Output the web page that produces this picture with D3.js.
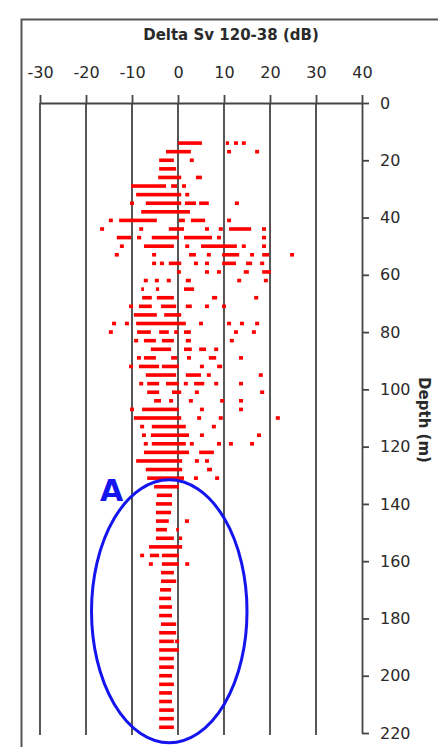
<!DOCTYPE html>
<html>
<head>
<meta charset="utf-8">
<script src="https://cdn.jsdelivr.net/npm/d3@7"></script>
<style>
    body { margin: 0; background: #fff; }
</style>
</head>
<body>
<script>
const width = 438;
const height = 747;

// axis ticks
const xTicks = [-30, -20, -10, 0, 10, 20, 30, 40];
const depthTicks = [0, 20, 40, 60, 80, 100, 120, 140, 160, 180, 200, 220];

// depth of each sampled row (m)
const depths = [14, 17, 20, 23, 26, 29, 32, 35, 38, 41, 44, 47, 50, 53, 56, 59, 62, 65, 68, 71,
    74, 77, 80, 83, 86, 89, 92, 95, 98, 101, 104, 107, 110, 113, 116, 119, 122, 125, 128, 131,
    134, 137, 140, 143, 146, 149, 152, 155, 158, 161, 164, 167, 170, 173, 176, 179, 182, 185, 188,
    191, 194, 197, 200, 203, 206, 209, 212, 215, 218];

// delta Sv values (dB) on each row, as runs [from, to] or single points [v]
const runs = [
    [[0, 5.2], [10.4, 11.1], [12.6], [14.3]],
    [[-2.6, 2.8], [11.1], [17.2]],
    [[-4.1, -0.9], [3.0]],
    [[-4.1, -0.4]],
    [[-4.3, 0.7], [3.9, 5.2]],
    [[-10.2, -2.6], [-1.5, -0.2], [1.3]],
    [[-9.1, 0.7], [2.0]],
    [[-10.0], [-7.0, 0.7], [1.5, 3.9], [4.6, 6.7], [12.8]],
    [[-8.0, 2.6]],
    [[-14.6], [-12.8, -4.6], [0.2, 1.5], [2.8, 5.9], [11.1]],
    [[-16.5], [-8.0], [-2.0, 1.3], [6.3], [9.3], [11.1, 15.9], [18.7]],
    [[-13.3, -10.2], [-8.9, -8.0], [-5.7, 0.2], [1.3, 7.4], [8.9], [18.7]],
    [[-12.2], [-7.4, -0.9], [2.0], [5.0, 12.8], [14.3], [18.7]],
    [[-13.3], [-5.2], [2.4, 3.9], [6.7], [9.6, 13.3], [16.1], [18.3, 19.8], [24.8]],
    [[-5.2], [-3.5], [-2.0, 0.7], [3.9], [6.3], [9.6, 12.6], [14.8, 16.1], [18.3]],
    [[0.2], [6.3], [8.9], [14.3, 15.4], [18.3, 20.2]],
    [[-7.0], [-4.6], [-2.0], [1.7, 2.8], [13.3], [19.1]],
    [[-8.0, -7.4], [-4.8, -4.1], [1.3, 3.5]],
    [[-7.8, -5.7], [-4.6, -0.9], [7.4, 8.5], [17.0]],
    [[-10.2], [-8.5, -5.7], [-3.7, -0.4], [1.7, 3.0], [6.3], [10.0]],
    [[-9.6, -4.6], [-3.0, 0.7]],
    [[-13.9], [-11.1], [-9.1, 1.7], [5.0], [11.1], [13.9], [17.2]],
    [[-14.6], [-8.9, -5.9], [-4.1, -2.0], [-0.4], [1.3, 2.8], [12.6], [16.5]],
    [[-9.1], [-7.4, -4.8], [-3.5, -0.9], [1.7, 2.8], [11.7]],
    [[-5.9, -1.5], [1.3, 3.0], [4.6, 6.1], [8.3]],
    [[-8.5], [-7.4, -4.8], [-1.5, -0.2], [2.4], [6.7, 8.3], [13.7]],
    [[-10.2], [-8.5, -4.1], [-3.5, 0.2], [5.2], [8.5, 9.6]],
    [[-7.0, -0.4], [1.7, 5.0], [6.7], [18.0]],
    [[-8.0], [-6.7, -4.1], [-2.6, 0.2], [1.7], [3.5, 5.7], [8.3], [13.7]],
    [[-6.7, -4.1], [-1.3, 0.7], [4.1], [18.3]],
    [[-5.2, -3.7], [-1.5], [2.8], [9.6], [13.7]],
    [[-10.0], [-7.8, 0.2], [5.2], [13.7]],
    [[-9.6, 0.7], [4.6], [9.3], [21.7]],
    [[-7.8], [-5.7, 1.7], [7.8]],
    [[-7.4], [-5.9, 2.4], [5.2], [17.6]],
    [[-7.0], [-5.7, 1.7], [3.0], [8.9], [11.5], [16.1]],
    [[-7.4, 2.4], [4.6, 7.8]],
    [[-9.1, 0.9], [4.1], [6.3]],
    [[-7.0, 0.9], [6.3, 7.4]],
    [[-6.7, 1.3], [3.9], [8.5]],
    [[-5.2, 0.2]],
    [[-4.6, -1.3]],
    [[-4.8, -1.3]],
    [[-4.8, -1.5]],
    [[-4.8, -2.0], [1.5, 2.4]],
    [[-4.8, -2.4], [-0.4, 0.2]],
    [[-4.8, -0.9], [0.2, 0.9]],
    [[-6.3, 0.9]],
    [[-7.8], [-6.1, -4.1], [-3.5, 0.2]],
    [[-5.9], [-3.5, 0.2], [2.0]],
    [[-3.7, -0.9]],
    [[-3.7, -0.4]],
    [[-3.9, -1.5]],
    [[-4.1, -1.5]],
    [[-4.1, -1.3]],
    [[-4.1, -1.3]],
    [[-3.7, -0.4]],
    [[-4.1, -0.4]],
    [[-4.1, -0.9], [-0.2]],
    [[-4.1, 0.2]],
    [[-4.1, -0.9]],
    [[-4.1, -0.9]],
    [[-4.1, -1.3]],
    [[-4.1, -0.9]],
    [[-4.1, -1.3]],
    [[-4.1, -1.3]],
    [[-4.1, -0.9]],
    [[-4.1, -0.9]],
    [[-4.1, -0.9]]
];

// annotation "A": ellipse centre (dB, m) and radii (dB, m)
const ringCentre = [-1.9, 177.5];
const ringRadius = [16.9, 45.9];

const color = {
    frame: "#555",
    grid: "#444",
    text: "#2a2a2a",
    point: "#ff0000",
    ring: "#1414ee"
};

const font = "'DejaVu Sans', sans-serif";
const gridBottom = 735;

let svg = d3.select("body").append("svg")
    .attr("width", width)
    .attr("height", height)
    .style("display", "block");

let x = d3.scaleLinear().domain([-30, 40]).range([40, 362]);
let y = d3.scaleLinear().domain([0, 220]).range([103, 733]);

// frame
svg.append("path")
    .attr("d", "M21.5," + height + "V19.5H" + width)
    .attr("fill", "none")
    .attr("stroke", color.frame)
    .attr("stroke-width", 2);

svg.append("text")
    .attr("x", 231)
    .attr("y", 40)
    .attr("text-anchor", "middle")
    .attr("font-family", font)
    .attr("font-weight", "bold")
    .attr("font-size", 15)
    .attr("fill", color.text)
    .text("Delta Sv 120-38 (dB)");

// vertical grid
svg.append("g")
    .selectAll("line")
    .data(xTicks.filter(d => d < 40))
    .enter()
    .append("line")
    .attr("x1", d => x(d))
    .attr("x2", d => x(d))
    .attr("y1", y(0))
    .attr("y2", gridBottom)
    .attr("stroke", color.grid)
    .attr("stroke-width", 1.8);

// top axis (plain hyphen for negatives, as in the original)
let xAxis = svg.append("g")
    .attr("transform", "translate(0," + y(0) + ")")
    .call(d3.axisTop(x).tickValues(xTicks).tickFormat(d => String(d))
        .tickSize(8).tickSizeOuter(0).tickPadding(17));
xAxis.select(".domain").attr("stroke", color.grid).attr("stroke-width", 1.8);
xAxis.selectAll(".tick line").attr("stroke", color.grid).attr("stroke-width", 1.8);
xAxis.selectAll("text")
    .attr("font-family", font)
    .attr("font-size", 16)
    .attr("fill", color.text);

// right depth axis
let yAxis = svg.append("g")
    .attr("transform", "translate(" + x(40) + ",0)")
    .call(d3.axisRight(y).tickValues(depthTicks).tickSize(7).tickSizeOuter(0).tickPadding(11));
yAxis.select(".domain").attr("stroke", color.grid).attr("stroke-width", 1.8);
yAxis.selectAll(".tick line").attr("stroke", color.grid).attr("stroke-width", 1.8);
yAxis.selectAll("text")
    .attr("font-family", font)
    .attr("font-size", 16)
    .attr("fill", color.text);

svg.append("text")
    .attr("transform", "translate(424,420) rotate(90)")
    .attr("text-anchor", "middle")
    .attr("dy", "0.35em")
    .attr("font-family", font)
    .attr("font-weight", "bold")
    .attr("font-size", 15)
    .attr("fill", color.text)
    .text("Depth (m)");

// points
let marks = [];
runs.forEach(function (row, i) {
    row.forEach(function (r) {
        marks.push({ depth: depths[i], from: r[0], to: r.length > 1 ? r[1] : r[0] });
    });
});

svg.append("g")
    .selectAll("rect")
    .data(marks)
    .enter()
    .append("rect")
    .attr("x", d => d.from === d.to ? x(d.from) - 2 : x(d.from))
    .attr("width", d => d.from === d.to ? 4 : x(d.to) - x(d.from))
    .attr("y", d => y(d.depth) - 1.8)
    .attr("height", 3.6)
    .attr("fill", color.point);

// annotation
svg.append("ellipse")
    .attr("cx", x(ringCentre[0]))
    .attr("cy", y(ringCentre[1]))
    .attr("rx", x(ringCentre[0] + ringRadius[0]) - x(ringCentre[0]))
    .attr("ry", y(ringCentre[1] + ringRadius[1]) - y(ringCentre[1]))
    .attr("fill", "none")
    .attr("stroke", color.ring)
    .attr("stroke-width", 3);

svg.append("text")
    .attr("x", 100)
    .attr("y", 501)
    .attr("font-family", font)
    .attr("font-weight", "bold")
    .attr("font-size", 30)
    .attr("fill", color.ring)
    .text("A");
</script>
</body>
</html>
